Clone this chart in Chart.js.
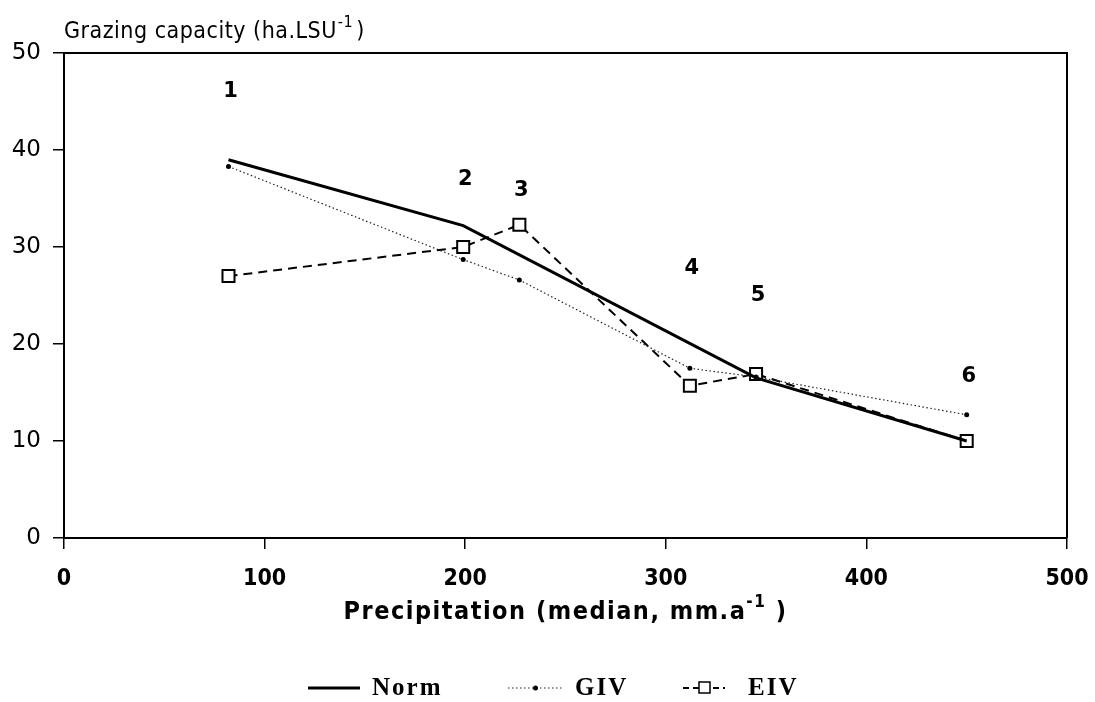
<!DOCTYPE html>
<html>
<head>
<meta charset="utf-8">
<script src="https://cdn.jsdelivr.net/npm/chart.js@4"></script>
<style>
  html, body { margin: 0; padding: 0; background: #fff; }
  #wrap { width: 1095px; height: 702px; }
</style>
</head>
<body>
<div id="wrap"><canvas id="chartGrazing" width="1095" height="702"></canvas></div>
<script>
// Site numbers and median precipitation (mm/a) at each site
const sites = ['1', '2', '3', '4', '5', '6'];
const precip = [82, 199, 227, 312, 345, 450];

// Grazing capacity (ha/LSU)
const normValues = [39.0, 32.2, null, null, 16.5, 10.0];
const givValues = [38.3, 28.7, 26.6, 17.5, 16.6, 12.7];
const eivValues = [27.0, 30.0, 32.3, 15.7, 16.9, 10.0];

const xTicks = [0, 100, 200, 300, 400, 500];
const yTicks = [0, 10, 20, 30, 40, 50];

// where the site numbers are written (data units)
const siteLabelY = [46, 37, 35.8, 27.8, 25, 16.6];

const toPoints = vals => precip.map((x, i) => ({ x: x, y: vals[i] }));

const FONT = "'DejaVu Sans', sans-serif";
const COND = "'DejaVu Sans Condensed', 'DejaVu Sans', sans-serif";

const annotPlugin = {
    id: 'annot',
    afterDraw(chart) {
        const ctx = chart.ctx;
        const xs = chart.scales.x, ys = chart.scales.y;
        const a = chart.chartArea;
        ctx.save();

        // frame top/right
        ctx.strokeStyle = '#000';
        ctx.lineWidth = 2;
        ctx.beginPath();
        ctx.moveTo(a.left, a.top);
        ctx.lineTo(a.right, a.top);
        ctx.lineTo(a.right, a.bottom);
        ctx.stroke();

        ctx.fillStyle = '#000';
        // y title
        ctx.letterSpacing = '0.5px';
        ctx.font = '23px ' + COND;
        ctx.textAlign = 'left';
        ctx.textBaseline = 'alphabetic';
        let t = 'Grazing capacity (ha.LSU';
        ctx.fillText(t, 64, 38);
        let w = ctx.measureText(t).width;
        ctx.font = '16px ' + COND;
        ctx.fillText('-1', 64 + w + 1, 27);
        let w2 = ctx.measureText('-1').width;
        ctx.font = '23px ' + COND;
        ctx.fillText(')', 64 + w + w2 + 4, 38);

        // x title
        ctx.letterSpacing = '1.5px';
        ctx.font = 'bold 25px ' + COND;
        t = 'Precipitation (median, mm.a';
        w = ctx.measureText(t).width;
        ctx.font = 'bold 17px ' + COND;
        w2 = ctx.measureText('-1').width;
        ctx.font = 'bold 25px ' + COND;
        const w3 = ctx.measureText(' )').width;
        let x0 = (a.left + a.right) / 2 - (w + w2 + w3) / 2;
        ctx.fillText(t, x0, 619);
        ctx.font = 'bold 17px ' + COND;
        ctx.fillText('-1', x0 + w, 607);
        ctx.font = 'bold 25px ' + COND;
        ctx.fillText(' )', x0 + w + w2, 619);
        ctx.letterSpacing = '0px';

        // site numbers
        ctx.font = 'bold 21px ' + FONT;
        ctx.textAlign = 'center';
        ctx.textBaseline = 'middle';
        sites.forEach((s, i) => {
            ctx.fillText(s, xs.getPixelForValue(precip[i]) + 2, ys.getPixelForValue(siteLabelY[i]));
        });

        // legend
        const ly = 688;
        ctx.font = "bold 25px 'Liberation Serif', serif";
        ctx.letterSpacing = '2px';
        ctx.textAlign = 'left';
        ctx.textBaseline = 'middle';
        chart.data.datasets.forEach((ds, i) => {
            const lx = [308, 508, 683][i];
            const lw = [52, 55, 42][i];
            const tx = [372, 575, 748][i];
            ctx.strokeStyle = ds.borderColor;
            ctx.lineWidth = ds.borderWidth;
            ctx.setLineDash(ds.pointStyle === 'rect' ? [6, 4] : (ds.borderDash || []));
            ctx.beginPath();
            ctx.moveTo(lx, ly);
            ctx.lineTo(lx + lw, ly);
            ctx.stroke();
            ctx.setLineDash([]);
            const mx = lx + lw / 2;
            if (ds.pointStyle === 'rect') {
                ctx.fillStyle = '#fff';
                ctx.fillRect(mx - 5, ly - 6, 11, 11);
                ctx.strokeStyle = '#000';
                ctx.lineWidth = 1.5;
                ctx.strokeRect(mx - 5, ly - 6, 11, 11);
            } else if (ds.pointRadius > 0) {
                ctx.fillStyle = '#000';
                ctx.beginPath();
                ctx.arc(mx, ly, 2.5, 0, Math.PI * 2);
                ctx.fill();
            }
            ctx.fillStyle = '#000';
            ctx.fillText(ds.label, tx, ly + 1);
        });
        ctx.restore();
    }
};

new Chart(document.getElementById('chartGrazing'), {
    type: 'line',
    data: {
        datasets: [{
            label: 'Norm',
            data: toPoints(normValues),
            borderColor: '#000',
            borderWidth: 3,
            pointRadius: 0,
            spanGaps: true,
            tension: 0
        }, {
            label: 'GIV',
            data: toPoints(givValues),
            borderColor: '#222',
            borderWidth: 1.2,
            borderDash: [1.5, 2.5],
            pointRadius: 2.5,
            pointBackgroundColor: '#000',
            pointBorderWidth: 0,
            tension: 0
        }, {
            label: 'EIV',
            data: toPoints(eivValues),
            borderColor: '#000',
            borderWidth: 2,
            borderDash: [9, 6],
            pointStyle: 'rect',
            pointRadius: 8.5,
            pointBackgroundColor: '#fff',
            pointBorderColor: '#000',
            pointBorderWidth: 2,
            tension: 0
        }]
    },
    options: {
        responsive: false,
        animation: false,
        layout: { padding: { top: 53, right: 28, left: 0, bottom: 0 } },
        scales: {
            x: {
                type: 'linear',
                min: 0,
                max: 500,
                afterBuildTicks: s => { s.ticks = xTicks.map(v => ({ value: v })); },
                afterFit: s => { s.height = 164; s.paddingLeft = 0; s.paddingRight = 0; },
                ticks: {
                    color: '#000',
                    padding: 16,
                    font: { family: COND, size: 23, weight: 'bold' }
                },
                grid: { display: true, drawOnChartArea: false, tickLength: 11, color: '#000', lineWidth: 1.5 },
                border: { color: '#000', width: 2 }
            },
            y: {
                min: 0,
                max: 50,
                afterBuildTicks: s => { s.ticks = yTicks.map(v => ({ value: v })); },
                afterFit: s => { s.width = 64; s.paddingTop = 0; s.paddingBottom = 0; },
                ticks: {
                    color: '#000',
                    padding: 12,
                    font: { family: FONT, size: 23 }
                },
                grid: { display: true, drawOnChartArea: false, tickLength: 11, color: '#000', lineWidth: 1.5 },
                border: { color: '#000', width: 2 }
            }
        },
        plugins: {
            legend: { display: false },
            tooltip: { enabled: false }
        }
    },
    plugins: [annotPlugin]
});
</script>
</body>
</html>
